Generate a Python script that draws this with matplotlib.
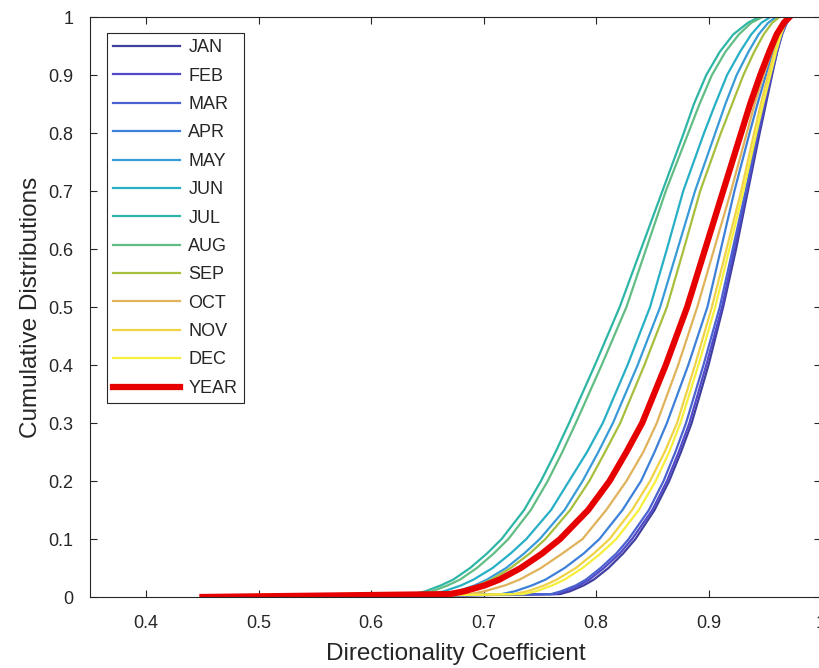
import matplotlib
matplotlib.use("Agg")
import matplotlib.pyplot as plt

# niveles de probabilidad acumulada y el valor x leido para cada curva
probs = [0, 0.005, 0.01, 0.02, 0.03, 0.05, 0.075, 0.1, 0.15, 0.2, 0.25, 0.3,
         0.4, 0.5, 0.6, 0.7, 0.8, 0.85, 0.9, 0.94, 0.97, 0.99, 1.0]

meses = ["JAN", "FEB", "MAR", "APR", "MAY", "JUN", "JUL", "AUG", "SEP", "OCT", "NOV", "DEC"]

jan = [0.56, 0.768, 0.777, 0.789, 0.798, 0.811, 0.824, 0.835, 0.852, 0.865, 0.8755, 0.885,
       0.900, 0.913, 0.9245, 0.935, 0.9455, 0.951, 0.9565, 0.961, 0.965, 0.969, 0.974]
feb = [0.56, 0.763, 0.772, 0.785, 0.794, 0.807, 0.821, 0.832, 0.850, 0.863, 0.8735, 0.883,
       0.898, 0.912, 0.923, 0.934, 0.9445, 0.950, 0.956, 0.961, 0.9655, 0.9696, 0.973]
mar = [0.56, 0.760, 0.769, 0.782, 0.791, 0.804, 0.818, 0.829, 0.847, 0.860, 0.8705, 0.880,
       0.8955, 0.910, 0.9215, 0.933, 0.9435, 0.949, 0.955, 0.9605, 0.965, 0.9695, 0.973]
apr = [0.56, 0.716, 0.728, 0.743, 0.755, 0.772, 0.789, 0.803, 0.8235, 0.840, 0.852, 0.863,
       0.882, 0.899, 0.911, 0.923, 0.9365, 0.9435, 0.951, 0.957, 0.963, 0.968, 0.972]
may = [0.55, 0.665, 0.677, 0.692, 0.703, 0.720, 0.736, 0.750, 0.772, 0.788, 0.802, 0.815,
       0.837, 0.857, 0.8725, 0.888, 0.906, 0.915, 0.925, 0.9355, 0.9445, 0.953, 0.960]
jun = [0.54, 0.653, 0.665, 0.680, 0.691, 0.708, 0.724, 0.738, 0.760, 0.776, 0.792, 0.806,
       0.828, 0.848, 0.863, 0.8775, 0.896, 0.906, 0.9165, 0.928, 0.938, 0.947, 0.955]
jul = [0.52, 0.638, 0.6485, 0.662, 0.673, 0.688, 0.703, 0.716, 0.736, 0.751, 0.764, 0.776,
       0.799, 0.821, 0.840, 0.859, 0.878, 0.887, 0.898, 0.910, 0.922, 0.935, 0.945]
aug = [0.53, 0.644, 0.6545, 0.668, 0.679, 0.694, 0.709, 0.722, 0.742, 0.757, 0.770, 0.782,
       0.805, 0.827, 0.8445, 0.862, 0.882, 0.892, 0.903, 0.915, 0.927, 0.938, 0.948]
sep = [0.55, 0.668, 0.680, 0.695, 0.707, 0.724, 0.741, 0.755, 0.777, 0.794, 0.808, 0.8215,
       0.843, 0.863, 0.878, 0.8926, 0.911, 0.921, 0.931, 0.9406, 0.949, 0.9566, 0.963]
oct_ = [0.55, 0.688, 0.701, 0.719, 0.732, 0.751, 0.770, 0.788, 0.809, 0.827, 0.842, 0.854,
        0.873, 0.890, 0.905, 0.920, 0.934, 0.941, 0.949, 0.956, 0.962, 0.967, 0.972]
nov = [0.56, 0.727, 0.739, 0.754, 0.765, 0.782, 0.798, 0.812, 0.832, 0.848, 0.861, 0.872,
       0.888, 0.903, 0.916, 0.929, 0.9405, 0.9465, 0.953, 0.9587, 0.9636, 0.968, 0.972]
dec = [0.56, 0.735, 0.747, 0.761, 0.772, 0.788, 0.804, 0.818, 0.838, 0.853, 0.865, 0.875,
       0.891, 0.906, 0.9185, 0.931, 0.9425, 0.9485, 0.955, 0.960, 0.9645, 0.9686, 0.972]
year = [0.45, 0.670, 0.683, 0.701, 0.714, 0.733, 0.752, 0.768, 0.793, 0.812, 0.827, 0.841,
        0.862, 0.881, 0.897, 0.913, 0.929, 0.937, 0.946, 0.954, 0.9606, 0.967, 0.972]

series = [jan, feb, mar, apr, may, jun, jul, aug, sep, oct_, nov, dec]
colores = ["#3f3f9f", "#5249c9", "#4a62d0", "#3d80d8", "#389bd8", "#27afc6", "#2db6a6",
           "#62bd84", "#a6bf3c", "#e0b25a", "#f0d246", "#f6ef3c"]

plt.rcParams["font.family"] = ["Liberation Sans", "DejaVu Sans"]

fig = plt.figure(figsize=(8.19, 6.68), dpi=100)
ax = fig.add_axes([90 / 819, 71 / 668, 731 / 819, 580 / 668])

for x, nombre, c in zip(series, meses, colores):
    ax.plot(x, probs, color=c, lw=1.6, label=nombre)
ax.plot(year, probs, color="#e60000", lw=4.5, label="YEAR")

ax.set_xlim(0.35, 1.0)
ax.set_ylim(0, 1)
ax.set_xticks([0.4, 0.5, 0.6, 0.7, 0.8, 0.9, 1.0])
ax.set_xticklabels(["0.4", "0.5", "0.6", "0.7", "0.8", "0.9", "1"])
ax.set_yticks([i / 10 for i in range(11)])
ax.set_yticklabels(["0", "0.1", "0.2", "0.3", "0.4", "0.5", "0.6", "0.7", "0.8", "0.9", "1"])
ax.tick_params(direction="in", top=True, right=True, length=5, width=0.8,
               labelsize=13, colors="#262626")
ax.tick_params(axis="x", pad=13)
ax.tick_params(axis="y", pad=12)
for s in ax.spines.values():
    s.set_color("#262626")
    s.set_linewidth(0.8)

ax.set_xlabel("Directionality Coefficient", fontsize=17.5, color="#262626")
ax.set_ylabel("Cumulative Distributions", fontsize=17.5, color="#262626")
ax.xaxis.set_label_coords(0.5, -0.08)
ax.yaxis.set_label_coords(-0.066, 0.5)

leg = ax.legend(loc="upper left", bbox_to_anchor=(17 / 731, 1 - 16 / 580), borderaxespad=0,
                fontsize=13, handlelength=3.7, labelspacing=0.63, handletextpad=0.45,
                fancybox=False, framealpha=1, borderpad=0.35)
leg.get_frame().set_edgecolor("#262626")
leg.get_frame().set_linewidth(0.8)
for t in leg.get_texts():
    t.set_color("#262626")

fig.savefig("out.png", dpi=100)
